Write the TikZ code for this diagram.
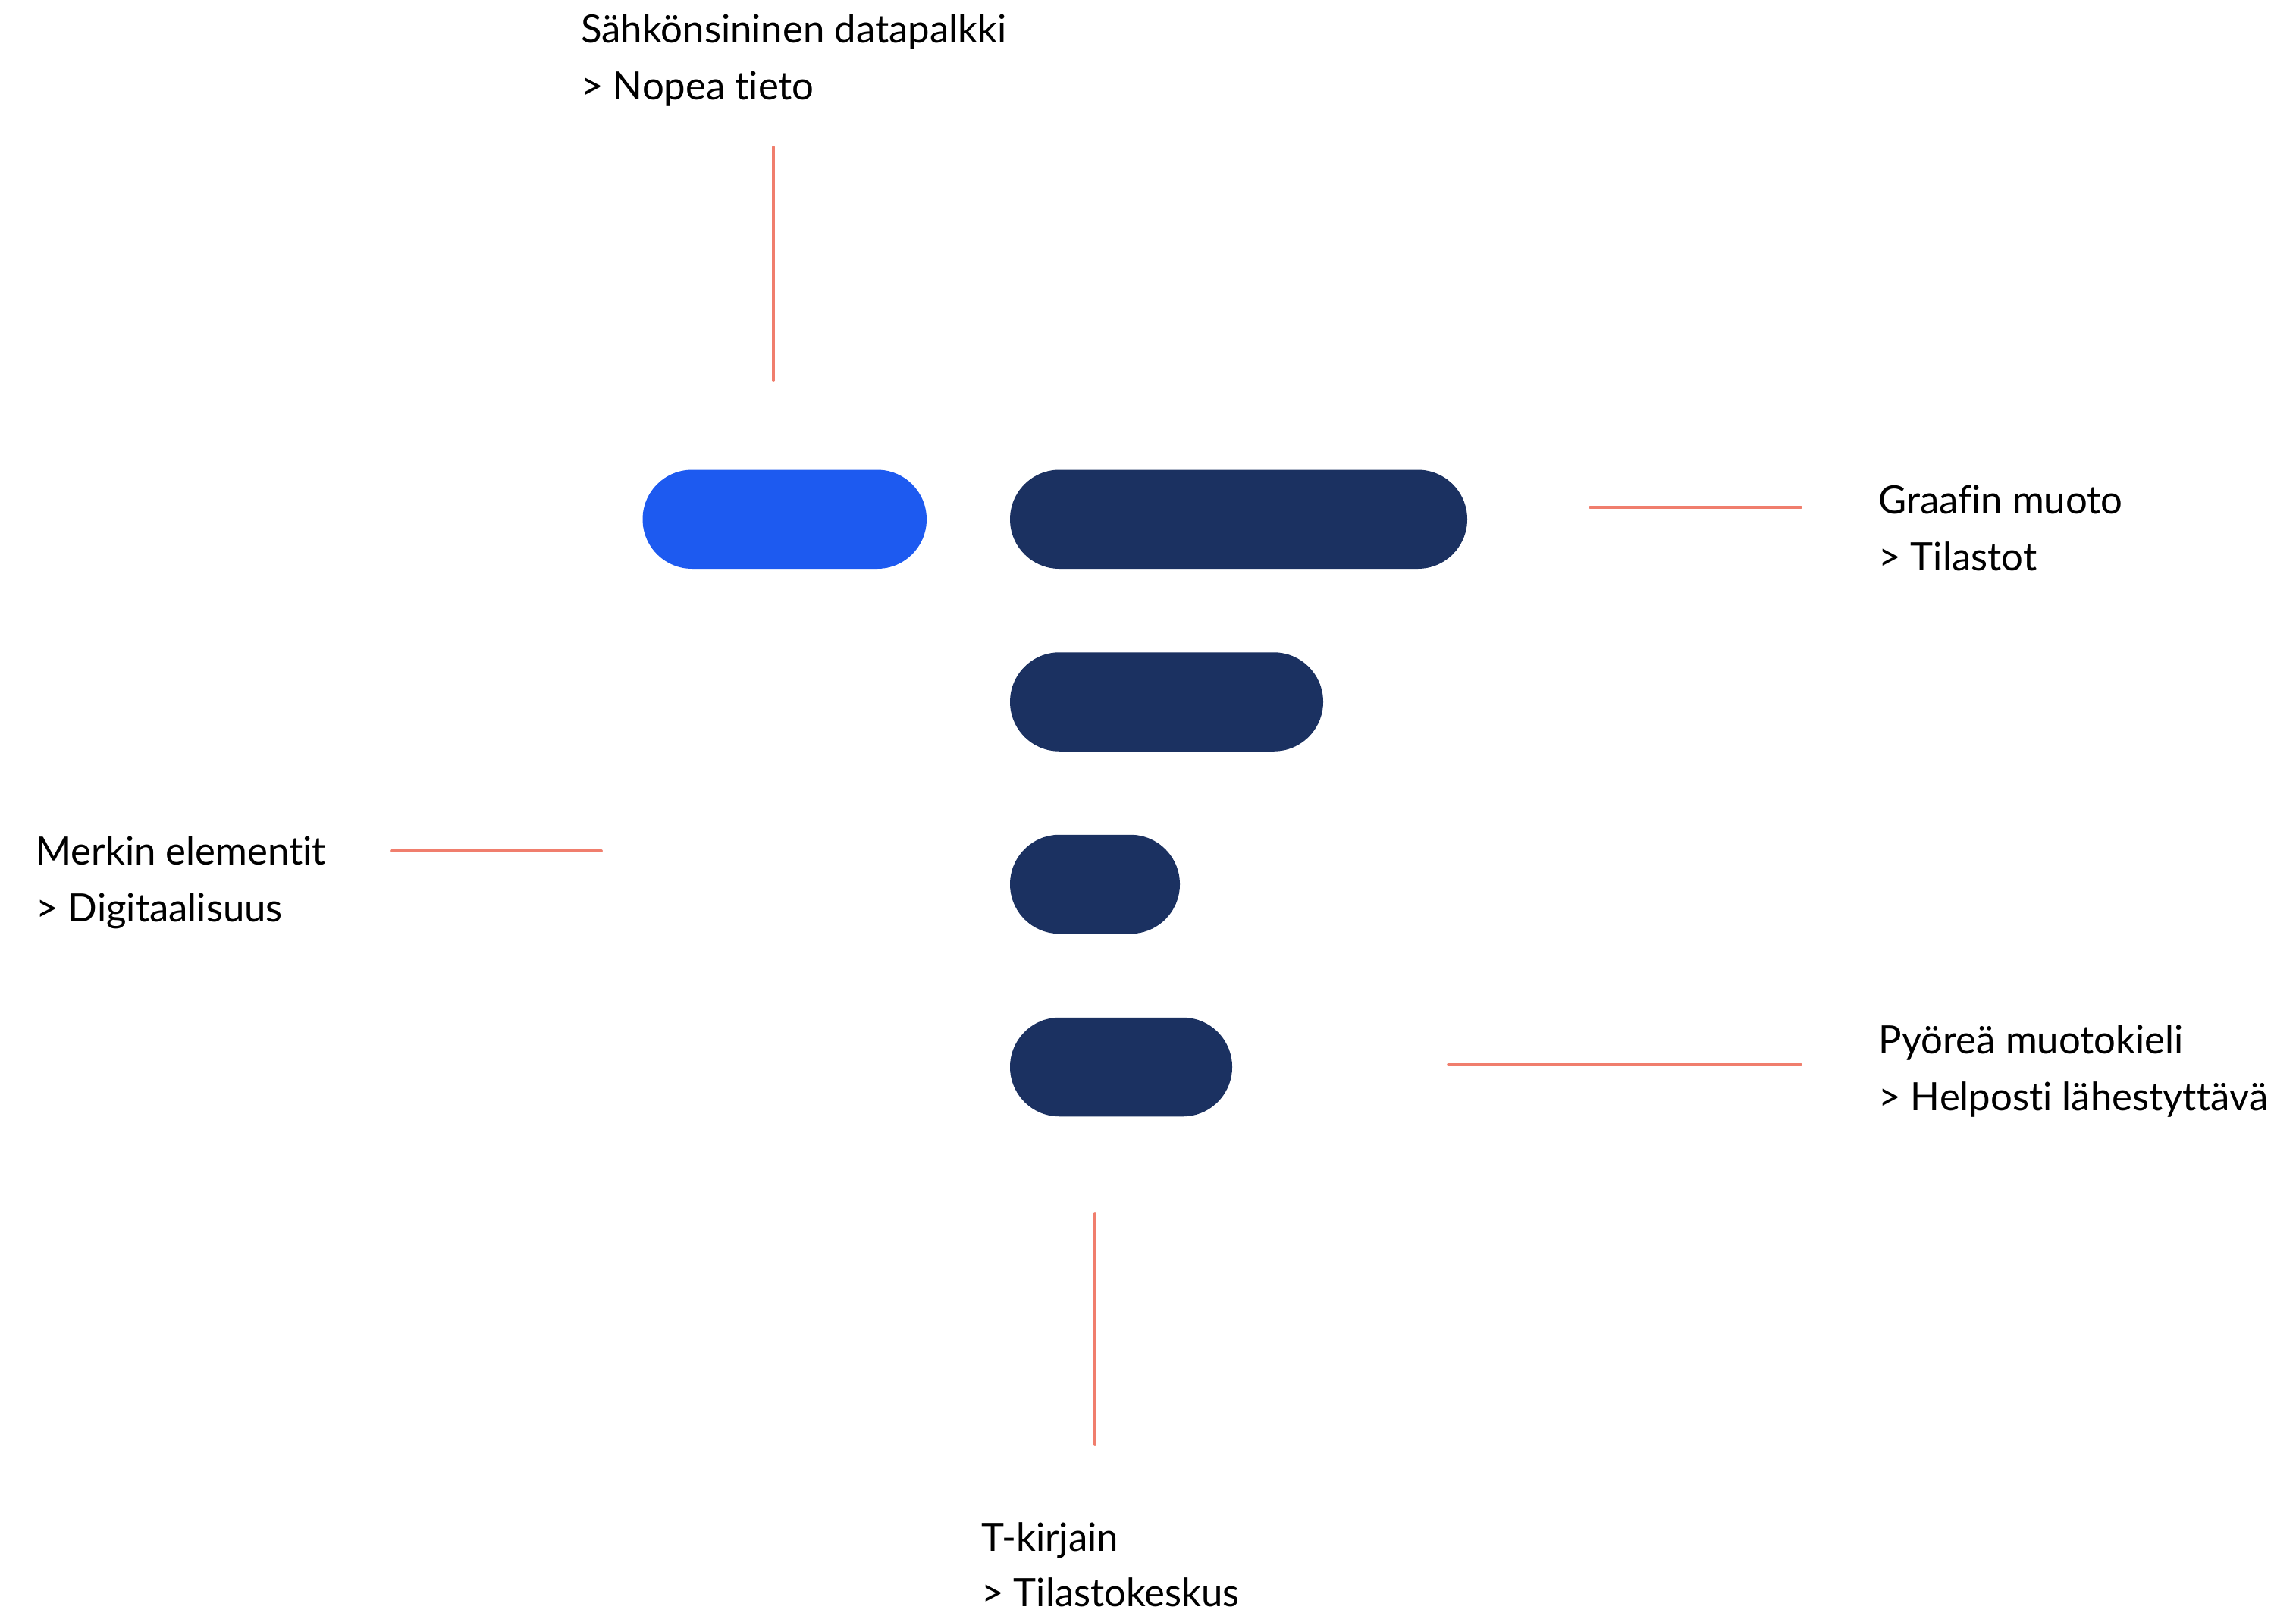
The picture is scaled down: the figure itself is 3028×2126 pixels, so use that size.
\documentclass[tikz,border=0pt]{standalone}
\usepackage{fontspec}
\setmainfont{Lato}[FakeStretch=0.99, Ligatures={NoCommon}]
\definecolor{elblue}{HTML}{1D5AF0}
\definecolor{navy}{HTML}{1B3161}
\definecolor{coral}{HTML}{F07E6D}
\begin{document}
\begin{tikzpicture}[x=0.5pt,y=-0.5pt,
  bar/.style={rectangle, rounded corners=32.6pt, minimum height=65.25pt, inner sep=0pt, draw=none},
  lbl/.style={anchor=base west, inner sep=0pt, font=\fontsize{25.7pt}{37.5pt}\selectfont, text=black},
  leader/.style={draw=coral, line width=1.85pt, line cap=round}]
\useasboundingbox[fill=white] (0,0) rectangle (3028,2126);
% bars
\node[bar, fill=elblue, minimum width=187.25pt] (b0) at (1034.75,684.75) {};
\node[bar, fill=navy, minimum width=301.5pt] (b1) at (1633.5,684.75) {};
\node[bar, fill=navy, minimum width=206.5pt] (b2) at (1538.5,925.5) {};
\node[bar, fill=navy, minimum width=112pt] (b3) at (1444,1166) {};
\node[bar, fill=navy, minimum width=146.5pt] (b4) at (1478.5,1407) {};
% labels
\node[lbl] (ta1) at (766,56) {Sähkönsininen datapalkki};
\node[lbl] (ta2) at (766,131) {> Nopea tieto};
\node[lbl] (tb1) at (2477,677) {Graafin muoto};
\node[lbl] (tb2) at (2477,752) {> Tilastot};
\node[lbl] (tc1) at (47,1140) {Merkin elementit};
\node[lbl] (tc2) at (47,1215) {> Digitaalisuus};
\node[lbl] (td1) at (2477,1389) {Pyöreä muotokieli};
\node[lbl] (td2) at (2477,1464) {> Helposti lähestyttävä};
\node[lbl] (te1) at (1294,2045) {T-kirjain};
\node[lbl] (te2) at (1294,2118) {> Tilastokeskus};
% leader lines
\coordinate (la1) at (1020,194); \coordinate (la2) at (1020,502);
\coordinate (lb1) at (2097,669); \coordinate (lb2) at (2375,669);
\coordinate (lc1) at (516,1122); \coordinate (lc2) at (793,1122);
\coordinate (ld1) at (1910,1404); \coordinate (ld2) at (2375,1404);
\coordinate (le1) at (1444,1600); \coordinate (le2) at (1444,1905);
\draw[leader] (la1) -- (la2);
\draw[leader] (lb1) -- (lb2);
\draw[leader] (lc1) -- (lc2);
\draw[leader] (ld1) -- (ld2);
\draw[leader] (le1) -- (le2);
\end{tikzpicture}
\end{document}
